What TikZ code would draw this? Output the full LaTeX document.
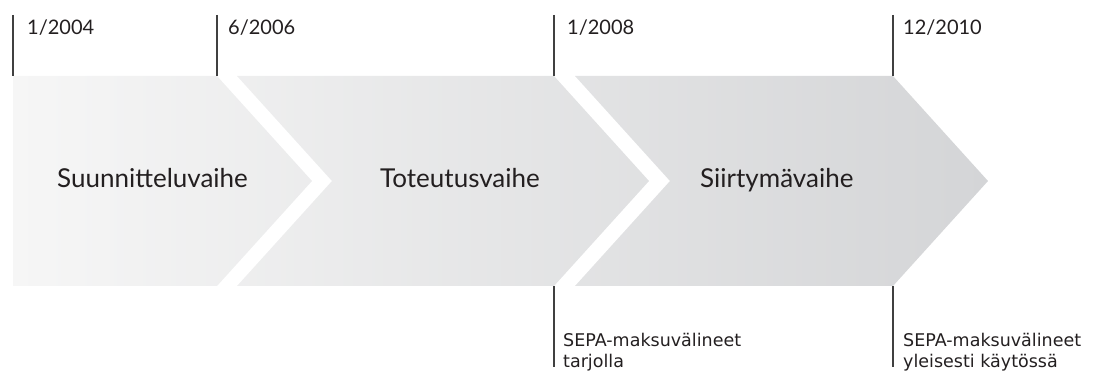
\documentclass[tikz,border=0pt]{standalone}
\usepackage{fontspec}
\setmainfont{Lato}
\newfontfamily\huomfont{DejaVu Sans}
\definecolor{vaalea}{RGB}{246,246,246}
\definecolor{tumma}{RGB}{212,213,215}
\definecolor{teksti}{RGB}{35,31,32}
\begin{document}
\begin{tikzpicture}[x=1pt, y=-1pt,
    viiva/.style={line width=1.2pt, draw=black!75},
    pvm/.style={anchor=base west, inner sep=0pt, text=teksti, font=\fontsize{20}{24}\selectfont},
    vaihe/.style={anchor=base west, inner sep=0pt, text=teksti, font=\fontsize{26}{30}\selectfont},
    huom/.style={anchor=base west, inner sep=0pt, align=left, text=teksti, font=\huomfont\fontsize{17.5}{21}\selectfont}]

    % koko kuvan koko
    \useasboundingbox (0,0) rectangle (1109,379);

    % kolme nuolta, yhteinen liukuväri
    \begin{scope}
        \clip (13,76) -- (217,76) -- (312,181) -- (217,286) -- (13,286) -- cycle
              (237,76) -- (554,76) -- (649,181) -- (554,286) -- (237,286) -- (332,181) -- cycle
              (575,76) -- (893,76) -- (988,181) -- (893,286) -- (575,286) -- (670,181) -- cycle;
        \shade[left color=vaalea, right color=tumma] (13,76) rectangle (988,286);
    \end{scope}

    % aikajanan pystyviivat ylhäällä
    \draw[viiva] (13,15) -- (13,76);
    \draw[viiva] (217,15) -- (217,76);
    \draw[viiva] (554,15) -- (554,76);
    \draw[viiva] (893,15) -- (893,76);

    % pystyviivat alhaalla
    \draw[viiva] (554,286) -- (554,367);
    \draw[viiva] (893,286) -- (893,367);

    % päivämäärät
    \node[pvm] (p2004) at (27,35) {1/2004};
    \node[pvm] (p2006) at (228,35) {6/2006};
    \node[pvm] (p2008) at (567,35) {1/2008};
    \node[pvm] (p2010) at (903,35) {12/2010};

    % vaiheet
    \node[vaihe] (suunnittelu) at (57,188) {Suunnitteluvaihe};
    \node[vaihe] (toteutus) at (380,188) {Toteutusvaihe};
    \node[vaihe] (siirtyma) at (700,188) {Siirtymävaihe};

    % huomautukset (ankkuri on viimeisen rivin perusviivalla)
    \node[huom] (tarjolla) at (563,368) {SEPA-maksuvälineet\\tarjolla};
    \node[huom] (kaytossa) at (903,368) {SEPA-maksuvälineet\\yleisesti käytössä};

\end{tikzpicture}
\end{document}
